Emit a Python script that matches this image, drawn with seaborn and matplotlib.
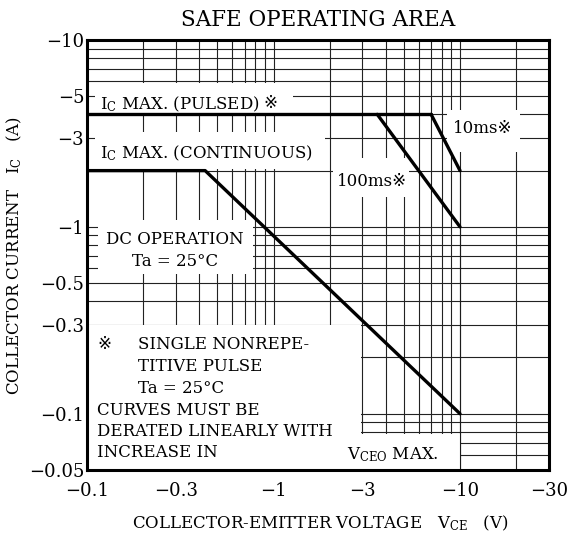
import matplotlib
matplotlib.use("Agg")
import matplotlib.pyplot as plt
from matplotlib.patches import Rectangle
from matplotlib.ticker import FixedLocator, FixedFormatter, LogLocator, NullFormatter
import pandas as pd
import seaborn as sns

# ---------------------------------------------------------------------------
# data (VCE in V, IC in A, magnitudes; labels carry the minus sign)
# ---------------------------------------------------------------------------
pulsed_v = [0.1, 7.0]
pulsed_i = [4.0, 4.0]
ms10_v = [7.0, 10.0]
ms10_i = [4.0, 2.0]
ms100_v = [3.6, 10.0]
ms100_i = [4.0, 1.0]
dc_v = [0.1, 0.43, 10.0]
dc_i = [2.0, 2.0, 0.1]
vceo_v = [10.0, 10.0]
vceo_i = [2.0, 0.05]

x_ticks = [0.1, 0.3, 1, 3, 10, 30]
x_labels = ["\u22120.1", "\u22120.3", "\u22121", "\u22123", "\u221210", "\u221230"]
y_ticks = [0.05, 0.1, 0.3, 0.5, 1, 3, 5, 10]
y_labels = ["\u22120.05", "\u22120.1", "\u22120.3", "\u22120.5", "\u22121", "\u22123", "\u22125", "\u221210"]

sns.set_style("white")
plt.rcParams["font.family"] = ["DejaVu Serif", "DejaVu Sans", "Noto Sans CJK JP"]
plt.rcParams["mathtext.fontset"] = "dejavuserif"
plt.rcParams["text.color"] = "black"

fig = plt.figure(figsize=(5.67, 5.35), dpi=100)
ax = fig.add_axes([87 / 567, 1 - 470 / 535, 462 / 567, 430 / 535])
ax.set_xscale("log")
ax.set_yscale("log")
ax.set_xlim(0.1, 30)
ax.set_ylim(0.05, 10)

ax.xaxis.set_major_locator(FixedLocator(x_ticks))
ax.xaxis.set_major_formatter(FixedFormatter(x_labels))
ax.yaxis.set_major_locator(FixedLocator(y_ticks))
ax.yaxis.set_major_formatter(FixedFormatter(y_labels))
ax.xaxis.set_minor_locator(LogLocator(base=10, subs=range(2, 10)))
ax.yaxis.set_minor_locator(LogLocator(base=10, subs=range(2, 10)))
ax.xaxis.set_minor_formatter(NullFormatter())
ax.yaxis.set_minor_formatter(NullFormatter())
ax.tick_params(which="both", length=0, labelsize=13, colors="black")
ax.tick_params(axis="x", pad=9)
ax.tick_params(axis="y", pad=2)

ax.set_axisbelow(True)
ax.grid(which="both", color="#222222", linewidth=0.8)
for s in ax.spines.values():
    s.set_linewidth(2.2)
    s.set_color("black")

# white areas behind the labels (V0, V1, I0, I1)
masks = [
    (0.110, 1.27, 4.0, 5.9),
    (0.110, 1.90, 2.03, 3.2),
    (8.5, 21.0, 2.52, 4.23),
    (2.08, 5.3, 1.45, 2.34),
    (0.1146, 0.78, 0.56, 1.09),
    (0.1, 2.96, 0.05, 0.297),
    (2.9, 9.95, 0.05, 0.078),
]
for v0, v1, i0, i1 in masks:
    ax.add_patch(Rectangle((v0, i0), v1 - v0, i1 - i0, facecolor="white",
                           edgecolor="none", zorder=1))

curves = [(pulsed_v, pulsed_i), (ms10_v, ms10_i), (ms100_v, ms100_i),
          (dc_v, dc_i), (vceo_v, vceo_i)]
for v, i in curves:
    d = pd.DataFrame({"v": v, "i": i})
    sns.lineplot(data=d, x="v", y="i", sort=False, color="black",
                 linewidth=2.4, ax=ax, zorder=3)

fs = 12
t = ax.text(0.117, 4.55, r"I$_{\mathrm{C}}$ MAX. (PULSED)", fontsize=fs,
            va="center", ha="left", zorder=4)
ax.annotate("\u203b", xy=(1, 0.5), xycoords=t, xytext=(3, 0),
            textcoords="offset points", fontsize=fs, va="center", ha="left",
            zorder=4)
ax.text(0.117, 2.49, r"I$_{\mathrm{C}}$ MAX. (CONTINUOUS)", fontsize=fs,
        va="center", ha="left", zorder=4)
ax.text(9.2, 3.38, "10ms\u203b", fontsize=fs, va="center", ha="left", zorder=4)
ax.text(2.2, 1.74, "100ms\u203b", fontsize=fs, va="center", ha="left", zorder=4)
ax.text(0.296, 0.745, "DC OPERATION\nTa = 25\u00b0C", fontsize=fs, va="center",
        ha="center", linespacing=1.35, zorder=4)

ax.text(0.113, 0.234, "\u203b", fontsize=fs, va="center", ha="left", zorder=4)
note_indented = [("SINGLE NONREPE-", 0.234), ("TITIVE PULSE", 0.178), ("Ta = 25\u00b0C", 0.136)]
for txt, y in note_indented:
    ax.text(0.188, y, txt, fontsize=fs, va="center", ha="left", zorder=4)
note_left = [("CURVES MUST BE", 0.104), ("DERATED LINEARLY WITH", 0.080), ("INCREASE IN", 0.0618)]
for txt, y in note_left:
    ax.text(0.113, y, txt, fontsize=fs, va="center", ha="left", zorder=4)
ax.text(2.49, 0.0604, r"V$_{\mathrm{CEO}}$ MAX.", fontsize=fs, va="center",
        ha="left", zorder=4)

ax.set_xlabel("")
ax.set_ylabel("")
fig.text(318 / 567, 1 - 20 / 535, "SAFE OPERATING AREA", fontsize=15.5,
         ha="center", va="center")
fig.text(320 / 567, 1 - 523 / 535,
         r"COLLECTOR-EMITTER VOLTAGE   V$_{\mathrm{CE}}$   (V)",
         fontsize=12, ha="center", va="center")
fig.text(14 / 567, 1 - 256 / 535, r"COLLECTOR CURRENT   I$_{\mathrm{C}}$   (A)",
         fontsize=12, ha="center", va="center", rotation=90)

fig.savefig("out.png", dpi=100, facecolor="white")
